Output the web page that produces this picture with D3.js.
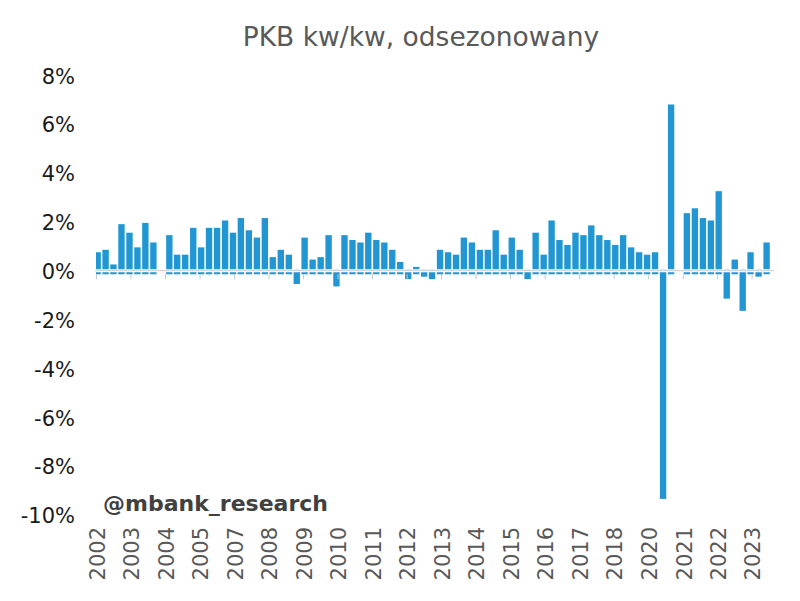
<!DOCTYPE html>
<html>
<head>
<meta charset="utf-8">
<script src="https://cdn.jsdelivr.net/npm/d3@7"></script>
<style>
  html, body { margin: 0; padding: 0; background: #fff; }
  svg { display: block; }
</style>
</head>
<body>
<svg id="chart" width="800" height="601"></svg>
<script>
// ---- data ----
const quarters = [
  "2002Q3","2002Q4",
  "2003Q1","2003Q2","2003Q3","2003Q4",
  "2004Q1","2004Q2","2004Q3","2004Q4",
  "2005Q1","2005Q2","2005Q3","2005Q4",
  "2006Q1","2006Q2","2006Q3","2006Q4",
  "2007Q1","2007Q2","2007Q3","2007Q4",
  "2008Q1","2008Q2","2008Q3","2008Q4",
  "2009Q1","2009Q2","2009Q3","2009Q4",
  "2010Q1","2010Q2","2010Q3","2010Q4",
  "2011Q1","2011Q2","2011Q3","2011Q4",
  "2012Q1","2012Q2","2012Q3","2012Q4",
  "2013Q1","2013Q2","2013Q3","2013Q4",
  "2014Q1","2014Q2","2014Q3","2014Q4",
  "2015Q1","2015Q2","2015Q3","2015Q4",
  "2016Q1","2016Q2","2016Q3","2016Q4",
  "2017Q1","2017Q2","2017Q3","2017Q4",
  "2018Q1","2018Q2","2018Q3","2018Q4",
  "2019Q1","2019Q2","2019Q3","2019Q4",
  "2020Q1","2020Q2","2020Q3","2020Q4",
  "2021Q1","2021Q2","2021Q3","2021Q4",
  "2022Q1","2022Q2","2022Q3","2022Q4",
  "2023Q1","2023Q2","2023Q3"
];
const gdpQoQ = [
  0.8, 0.9,
  0.3, 1.95, 1.6, 1.0,
  2.0, 1.2, null, 1.5,
  0.7, 0.7, 1.8, 1.0,
  1.8, 1.8, 2.1, 1.6,
  2.2, 1.7, 1.4, 2.2,
  0.6, 0.9, 0.7, -0.5,
  1.4, 0.5, 0.6, 1.5,
  -0.6, 1.5, 1.3, 1.2,
  1.6, 1.3, 1.2, 0.9,
  0.4, -0.3, 0.2, -0.2,
  -0.3, 0.9, 0.8, 0.7,
  1.4, 1.2, 0.9, 0.9,
  1.7, 0.7, 1.4, 0.9,
  -0.3, 1.6, 0.7, 2.1,
  1.3, 1.1, 1.6, 1.5,
  1.9, 1.5, 1.3, 1.1,
  1.5, 1.0, 0.8, 0.7,
  0.8, -9.3, 6.85, null,
  2.4, 2.6, 2.2, 2.1,
  3.3, -1.1, 0.5, -1.6,
  0.8, -0.2, 1.2
];
const tickDates = [
  "2002-09-01","2003-10-01","2004-11-01","2005-12-01","2007-01-01",
  "2008-02-01","2009-03-01","2010-04-01","2011-05-01","2012-06-01",
  "2013-07-01","2014-08-01","2015-09-01","2016-10-01","2017-11-01",
  "2018-12-01","2020-01-01","2021-02-01","2022-03-01","2023-04-01"
];
const yTicks = [-10, -8, -6, -4, -2, 0, 2, 4, 6, 8];
const titleText = "PKB kw/kw, odsezonowany";
const watermark = "@mbank_research";

// ---- layout ----
const svg = d3.select("#chart");
const plotLeft = 96, plotRight = 774;
const barColor = "#2196d3";
const font = "DejaVu Sans, Verdana, sans-serif";

const quarterDate = q => {
  const yy = +q.slice(0, 4), k = +q.slice(5);
  return new Date(Date.UTC(yy, k * 3 - 1, 20));
};
const data = quarters.map((q, i) => ({ q, date: quarterDate(q), v: gdpQoQ[i] }));

const x = d3.scaleUtc()
  .domain([new Date(Date.UTC(2002, 8, 1)), new Date(Date.UTC(2023, 11, 14))])
  .range([plotLeft, plotRight]);
const y = d3.scaleLinear().domain([-10, 8]).range([516, 76.4]);

const pitch = (x(data[data.length - 1].date) - x(data[0].date)) / (data.length - 1);
const barW = pitch * 0.8;
const y0 = y(0);

// title
svg.append("text")
  .attr("x", 421).attr("y", 46)
  .attr("text-anchor", "middle")
  .attr("font-family", font)
  .attr("font-size", 26.5)
  .attr("fill", "#595959")
  .text(titleText);

// clip
svg.append("defs").append("clipPath").attr("id", "plotclip")
  .append("rect").attr("x", plotLeft).attr("y", 60)
  .attr("width", plotRight - plotLeft).attr("height", 460);

// y axis labels
const yAxis = d3.axisLeft(y).tickValues(yTicks).tickFormat(d => d + "%").tickSize(0).tickPadding(0);
const gy = svg.append("g").attr("transform", "translate(75,0)").call(yAxis);
gy.select(".domain").remove();
gy.selectAll("text")
  .attr("font-family", font)
  .attr("font-size", 21)
  .attr("fill", "#1a1a1a");

// bars
svg.append("g").attr("clip-path", "url(#plotclip)")
  .selectAll("rect")
  .data(data.filter(d => d.v !== null))
  .join("rect")
  .attr("x", d => x(d.date) - barW / 2)
  .attr("width", barW)
  .attr("y", d => d.v >= 0 ? y(d.v) : y0 - 2.5)
  .attr("height", d => d.v >= 0 ? (y0 + 2.5) - y(d.v) : y(d.v) - (y0 - 2.5))
  .attr("fill", barColor);

// zero line
svg.append("line")
  .attr("x1", plotLeft - 1).attr("x2", plotRight)
  .attr("y1", y0 - 1).attr("y2", y0 - 1)
  .attr("stroke", "#fff").attr("stroke-width", 3);
svg.append("line")
  .attr("x1", plotLeft - 1).attr("x2", plotRight)
  .attr("y1", y0 - 1.2).attr("y2", y0 - 1.2)
  .attr("stroke", "#d4d4d4").attr("stroke-width", 1.3);

// x axis ticks + labels
const xAxis = d3.axisBottom(x)
  .tickValues(tickDates.map(s => new Date(s + "T00:00:00Z")))
  .tickFormat(d3.utcFormat("%Y"))
  .tickSize(5).tickPadding(0);
const gx = svg.append("g").attr("transform", `translate(0,${y0 + 2.5})`).call(xAxis);
gx.select(".domain").remove();
gx.selectAll(".tick line").attr("stroke", "#c8c8c8").attr("stroke-width", 1);
gx.selectAll(".tick text")
  .attr("font-family", font)
  .attr("font-size", 21)
  .attr("fill", "#595959")
  .attr("text-anchor", "end")
  .attr("transform", `translate(1,${527 - (y0 + 2.5)}) rotate(-90)`)
  .attr("x", 0).attr("y", 0).attr("dy", "0.35em");

// watermark
svg.append("text")
  .attr("x", 103).attr("y", 511)
  .attr("font-family", font)
  .attr("font-size", 22)
  .attr("font-weight", "bold")
  .attr("fill", "#404040")
  .text(watermark);
</script>
</body>
</html>
